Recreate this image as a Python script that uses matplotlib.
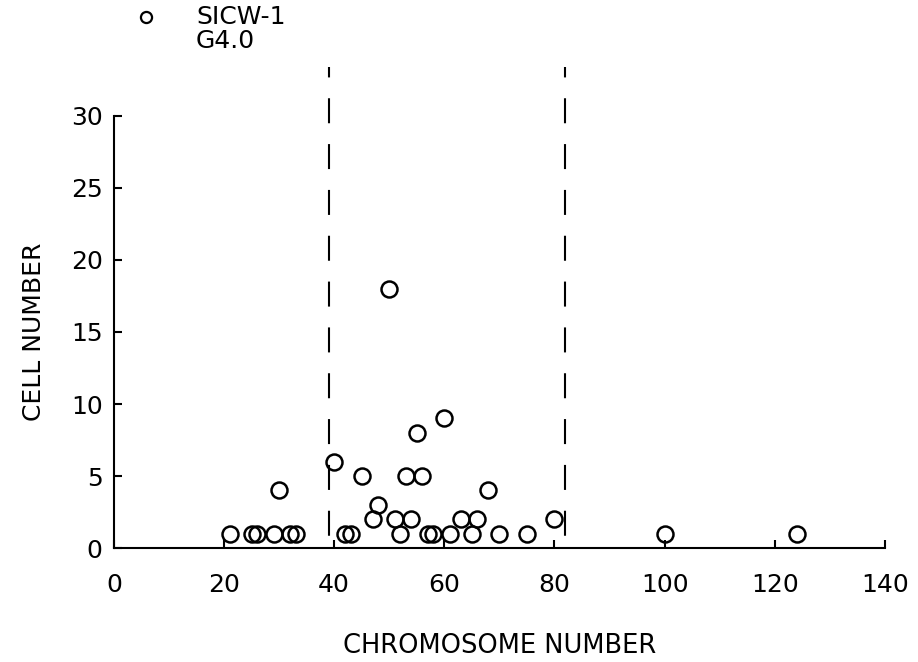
import matplotlib
matplotlib.use('Agg')
import matplotlib.pyplot as plt
from matplotlib.lines import Line2D

plt.rcParams['font.family'] = ['DejaVu Sans']

# chromosome number vs cell number, SICW-1 G4.0
chromosome = [21, 25, 26, 29, 30, 32, 33, 40, 42, 43, 45, 47, 48, 50, 51, 52,
              53, 54, 55, 56, 57, 58, 60, 61, 63, 65, 66, 68, 70, 75, 80, 100, 124]
cells = [1, 1, 1, 1, 4, 1, 1, 6, 1, 1, 5, 2, 3, 18, 2, 1,
         5, 2, 8, 5, 1, 1, 9, 1, 2, 1, 2, 4, 1, 1, 2, 1, 1]
limits = [39, 82]
xticks = [0, 20, 40, 60, 80, 100, 120, 140]
yticks = [0, 5, 10, 15, 20, 25, 30]

fig = plt.figure(figsize=(9.18, 6.62), dpi=100)
ax = fig.add_axes([0.124, 0.172, 0.840, 0.653])

ax.plot(chromosome, cells, 'o', ms=11.5, mfc='none', mec='black', mew=1.8,
        clip_on=False, zorder=3)

# dashed limits, drawn top-down so the pattern starts at the top
for x in limits:
    ax.plot([x, x], [33.4, 0.5], color='black', lw=1.5,
            linestyle=(7, (12, 10)), clip_on=False)

ax.set_xlim(0, 140)
ax.set_ylim(0, 30)
ax.set_xticks(xticks)
ax.set_yticks(yticks)
ax.spines['top'].set_visible(False)
ax.spines['right'].set_visible(False)
ax.spines['left'].set_linewidth(1.5)
ax.spines['bottom'].set_linewidth(1.5)
ax.tick_params(axis='both', direction='in', length=6, width=1.5,
               labelsize=18)
ax.tick_params(axis='x', pad=18)
ax.tick_params(axis='y', pad=8)

ax.set_xlabel('CHROMOSOME NUMBER', fontsize=18.5, labelpad=26)
ax.set_ylabel('CELL NUMBER', fontsize=18, labelpad=18)

# legend drawn by hand: marker beside first line of text
fig.add_artist(Line2D([146 / 918], [1 - 17 / 662], marker='o', ms=8,
                      mfc='none', mec='black', mew=1.6,
                      transform=fig.transFigure))
fig.text(196 / 918, 1 - 17 / 662, 'SICW-1', fontsize=18, va='center')
fig.text(196 / 918, 1 - 41 / 662, 'G4.0', fontsize=18, va='center')

fig.savefig('out.png', dpi=100)
